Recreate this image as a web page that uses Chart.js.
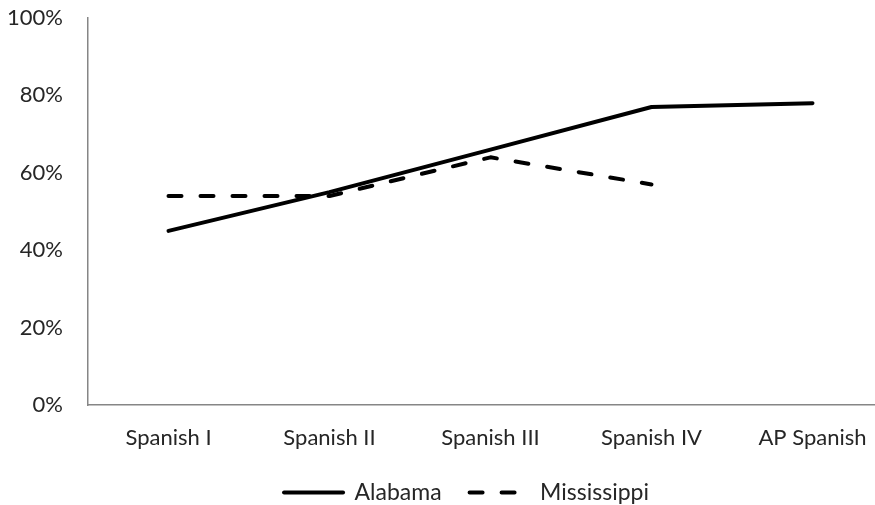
<!DOCTYPE html>
<html>
<head>
<meta charset="utf-8">
<script src="https://cdn.jsdelivr.net/npm/chart.js@4/dist/chart.umd.min.js"></script>
<style>
  html, body { margin: 0; padding: 0; background: #fff; }
  #wrap { width: 875px; height: 505px; overflow: hidden; position: relative; }
  #c { display: block; }
</style>
</head>
<body>
<div id="wrap"><canvas id="c" width="893" height="505" style="width:893px;height:505px"></canvas></div>
<script>
// Course levels along the horizontal axis
const courses = ['Spanish I', 'Spanish II', 'Spanish III', 'Spanish IV', 'AP Spanish'];
// Percentages by state (Mississippi has no AP Spanish value)
const alabama = [45, 55, 66, 77, 78];
const mississippi = [54, 54, 64, 57, null];
// Vertical axis ticks
const yTicks = [0, 20, 40, 60, 80, 100];

const FONT = 'Lato, "Open Sans", sans-serif';
const TEXT = '#262626';
const AXIS = '#868686';

// Nudges the bottom legend to the right so it sits under the plot
const legendNudge = {
  id: 'legendNudge',
  afterLayout(chart) {
    const lg = chart.legend;
    if (lg) { lg.left += 20; lg.right += 20; }
  }
};

new Chart(document.getElementById('c'), {
  type: 'line',
  data: {
    labels: courses,
    datasets: [
      {
        label: 'Alabama',
        data: alabama,
        borderColor: '#000',
        backgroundColor: '#000',
        borderWidth: 4,
        borderCapStyle: 'round',
        borderJoinStyle: 'round',
        pointRadius: 0,
        tension: 0
      },
      {
        label: 'Mississippi',
        data: mississippi,
        borderColor: '#000',
        backgroundColor: '#000',
        borderWidth: 4,
        borderDash: [13, 19],
        borderCapStyle: 'round',
        borderJoinStyle: 'round',
        pointRadius: 0,
        tension: 0,
        spanGaps: false
      }
    ]
  },
  plugins: [legendNudge],
  options: {
    responsive: false,
    animation: false,
    devicePixelRatio: 1,
    layout: { padding: { top: 18, left: 0, right: 0, bottom: -9 } },
    plugins: {
      tooltip: { enabled: false },
      legend: {
        position: 'bottom',
        labels: {
          usePointStyle: true,
          pointStyle: 'line',
          pointStyleWidth: 59,
          padding: 28,
          color: TEXT,
          font: { family: FONT, size: 23 },
          generateLabels(chart) {
            return chart.data.datasets.map((ds, i) => ({
              text: ds.label,
              datasetIndex: i,
              fillStyle: ds.borderColor,
              strokeStyle: ds.borderColor,
              fontColor: TEXT,
              lineWidth: ds.borderWidth,
              lineDash: ds.borderDash || [],
              lineCap: 'round',
              pointStyle: 'line',
              hidden: false
            }));
          }
        }
      }
    },
    scales: {
      x: {
        offset: true,
        afterFit: (s) => { s.height = 48; },
        grid: { display: false, drawTicks: false },
        border: { display: true, color: AXIS, width: 1.5 },
        ticks: { color: TEXT, padding: 20, font: { family: FONT, size: 22 }, maxRotation: 0, autoSkip: false }
      },
      y: {
        min: 0,
        max: 100,
        afterFit: (s) => { s.width = 88; s.paddingTop = 10; s.paddingBottom = 10; },
        afterBuildTicks: (s) => { s.ticks = yTicks.map(v => ({ value: v })); },
        grid: { display: false, drawTicks: false },
        border: { display: true, color: AXIS, width: 1.5 },
        ticks: {
          color: TEXT,
          padding: 25,
          font: { family: FONT, size: 22 },
          callback: (v) => v + '%'
        }
      }
    }
  }
});
</script>
</body>
</html>
